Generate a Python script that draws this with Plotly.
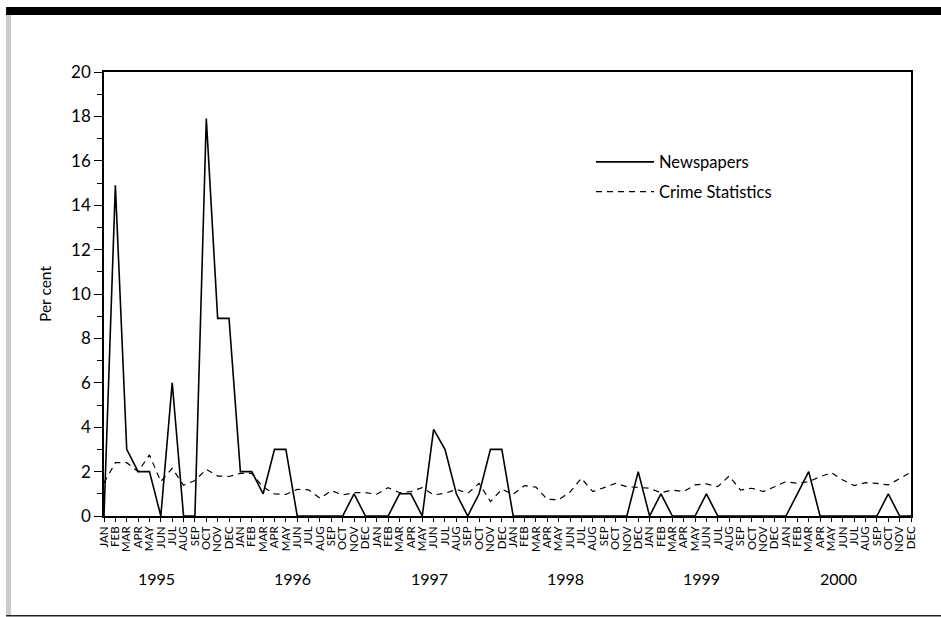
import plotly.graph_objects as go

# Monthly shares (per cent), January 1995 - December 2000
years = ["1995", "1996", "1997", "1998", "1999", "2000"]
months = ["JAN", "FEB", "MAR", "APR", "MAY", "JUN",
          "JUL", "AUG", "SEP", "OCT", "NOV", "DEC"]

newspapers = [
    0, 14.9, 3, 2, 2, 0, 6, 0, 0, 17.9, 8.9, 8.9,          # 1995
    2, 2, 1, 3, 3, 0, 0, 0, 0, 0, 1, 0,                    # 1996
    0, 0, 1, 1, 0, 3.9, 3, 1, 0, 1, 3, 3,                  # 1997
    0, 0, 0, 0, 0, 0, 0, 0, 0, 0, 0, 2,                    # 1998
    0, 1, 0, 0, 0, 1, 0, 0, 0, 0, 0, 0,                    # 1999
    0, 1, 2, 0, 0, 0, 0, 0, 0, 1, 0, 0,                    # 2000
]

crime_statistics = [
    1.5, 2.4, 2.4, 2.0, 2.75, 1.55, 2.15, 1.38, 1.6, 2.1, 1.8, 1.78,      # 1995
    1.92, 1.92, 1.3, 1.0, 0.97, 1.2, 1.18, 0.8, 1.14, 0.95, 1.05, 1.05,   # 1996
    0.98, 1.28, 1.05, 1.1, 1.28, 0.95, 1.02, 1.2, 1.02, 1.47, 0.65, 1.2,  # 1997
    0.98, 1.37, 1.3, 0.75, 0.73, 1.08, 1.7, 1.1, 1.28, 1.47, 1.32, 1.3,   # 1998
    1.25, 1.05, 1.17, 1.1, 1.4, 1.45, 1.32, 1.8, 1.17, 1.25, 1.1, 1.32,   # 1999
    1.55, 1.47, 1.55, 1.77, 1.95, 1.62, 1.37, 1.5, 1.47, 1.4, 1.7, 1.97,  # 2000
]

month_index = list(range(len(years) * len(months)))
month_labels = [m for _ in years for m in months]

FONT = "Lato, 'Open Sans', sans-serif"

fig = go.Figure()

fig.add_trace(go.Scatter(
    x=month_index, y=newspapers, mode="lines", name="Newspapers",
    line=dict(color="black", width=1.6), legend="legend",
))
fig.add_trace(go.Scatter(
    x=month_index, y=crime_statistics, mode="lines", name="Crime Statistics",
    line=dict(color="black", width=1.2, dash="6px,5px"), legend="legend2",
))

# Year labels under each block of twelve months
annotations = [
    dict(x=12 * i + 4.6, y=-0.14, xref="x", yref="paper", text=yr,
         showarrow=False, font=dict(family=FONT, size=16, color="black"),
         xanchor="center", yanchor="middle")
    for i, yr in enumerate(years)
]

# Page furniture: heavy rule on top, grey bar on the left, thin rule at the bottom
shapes = [
    dict(type="rect", xref="paper", yref="paper", x0=-0.1214, x1=1.04,
         y0=1.1284, y1=1.1464, fillcolor="black", line=dict(width=0), layer="above"),
    dict(type="rect", xref="paper", yref="paper", x0=-0.1214, x1=-0.1152,
         y0=-0.2235, y1=1.1284, fillcolor="#cccccc", line=dict(width=0), layer="above"),
    dict(type="line", xref="paper", yref="paper", x0=-0.1214, x1=1.04,
         y0=-0.2245, y1=-0.2245, line=dict(color="#222222", width=1.5)),
]

fig.update_layout(
    width=941, height=617,
    margin=dict(l=104, r=30, t=72, b=101),
    paper_bgcolor="white", plot_bgcolor="white",
    font=dict(family=FONT, color="black"),
    showlegend=True,
    legend=dict(x=0.6035, y=0.797, xanchor="left", yanchor="middle",
                itemwidth=58, font=dict(family=FONT, size=16.5, color="black"),
                bgcolor="rgba(0,0,0,0)"),
    legend2=dict(x=0.6035, y=0.730, xanchor="left", yanchor="middle",
                 itemwidth=58, font=dict(family=FONT, size=16.5, color="black"),
                 bgcolor="rgba(0,0,0,0)"),
    annotations=annotations,
    shapes=shapes,
)

fig.update_xaxes(
    range=[0, len(month_index) - 1],
    tickmode="array", tickvals=month_index, ticktext=month_labels,
    tickangle=-90, tickfont=dict(family=FONT, size=11.5, color="black"),
    ticks="outside", ticklen=4, tickwidth=1, tickcolor="black",
    showline=True, linecolor="black", linewidth=1.5, mirror=True,
    showgrid=False, zeroline=False,
)

fig.update_yaxes(
    range=[0, 20], dtick=2, tick0=0,
    tickfont=dict(family=FONT, size=17, color="black"),
    ticks="outside", ticklen=8, tickwidth=1.2, tickcolor="black",
    minor=dict(dtick=1, tick0=0, ticks="outside", ticklen=5, tickwidth=1.2, tickcolor="black"),
    showline=True, linecolor="black", linewidth=1.5, mirror=True,
    showgrid=False, zeroline=False,
    title=dict(text="Per cent", font=dict(family=FONT, size=15.5, color="black"), standoff=16),
)

fig.write_html("out.html")
